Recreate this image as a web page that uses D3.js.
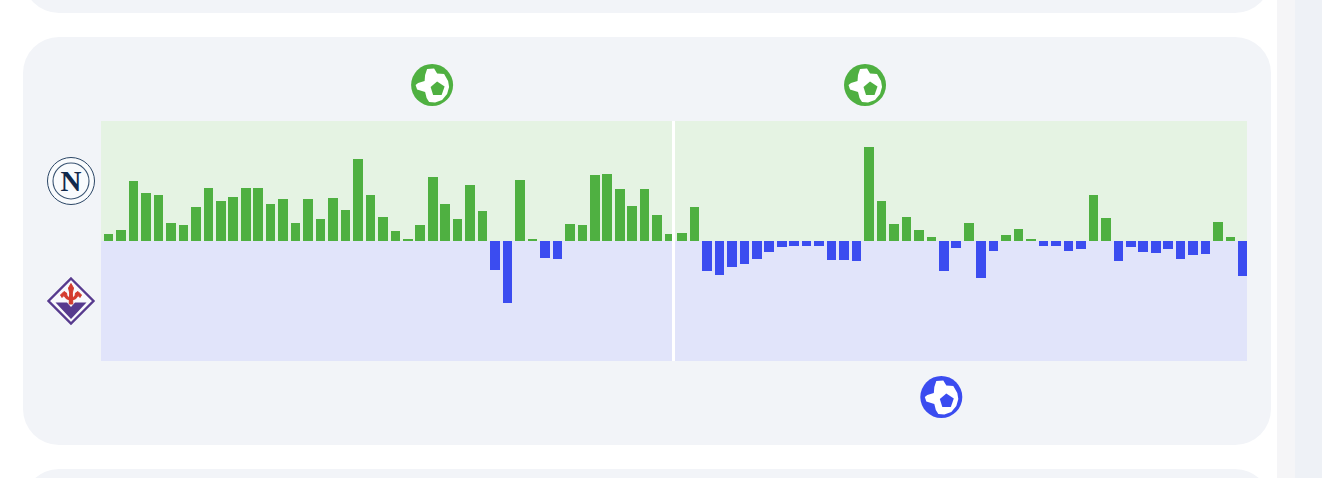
<!DOCTYPE html>
<html>
<head>
<meta charset="utf-8">
<script src="https://cdn.jsdelivr.net/npm/d3@7"></script>
<style>
    html, body { margin: 0; padding: 0; background: #fff; overflow: hidden; }
    svg { display: block; }
</style>
</head>
<body>
<svg id="chart" width="1322" height="478"></svg>
<script>
// momentum per minute, first half then second half. positive = home, negative = away
const firstHalf = [7, 11, 60, 48, 46, 18, 16, 34, 53, 40, 44, 53, 53, 37, 42, 18, 42, 22, 43, 31, 82, 46, 24, 10,
    2, 16, 64, 37, 22, 56, 30, -29, -62, 61, 2, -17, -18, 17, 16, 66, 67, 52, 35, 52, 26, 7];
const secondHalf = [8, 34, -30, -34, -26, -23, -18, -11, -6, -5, -5, -5, -19, -19, -20, 94, 40, 17, 24, 11, 4, -30, -7, 18,
    -37, -10, 6, 12, 2, -5, -5, -10, -8, 46, 23, -20, -6, -11, -12, -8, -18, -14, -13, 19, 4, -35];
const momentum = firstHalf.concat(secondHalf);
const homeGoals = [25.95, 60.68];
const awayGoals = [66.8];

const GREEN = "#4fb041";
const BLUE = "#3b4cf0";

const svg = d3.select("#chart");

// page background pieces
svg.append("rect").attr("x", 1277).attr("y", 0).attr("width", 18).attr("height", 478).attr("fill", "#f5f5f7");
svg.append("rect").attr("x", 1295).attr("y", 0).attr("width", 27).attr("height", 478).attr("fill", "#eef1f6");
svg.append("rect").attr("x", 23).attr("y", -100).attr("width", 1248).attr("height", 113).attr("rx", 36).attr("fill", "#f2f4f8");
svg.append("rect").attr("x", 23).attr("y", 37).attr("width", 1248).attr("height", 408).attr("rx", 36).attr("fill", "#f2f4f8");
svg.append("rect").attr("x", 23).attr("y", 469).attr("width", 1248).attr("height", 113).attr("rx", 36).attr("fill", "#f2f4f8");

const x = d3.scaleBand().domain(d3.range(momentum.length)).range([102.4, 1249.2]).paddingInner(0.23).paddingOuter(0.115);
const y = d3.scaleLinear().domain([-120, 120]).range([361, 121]);
const goalX = d3.scaleLinear().domain([0, momentum.length - 1]).range([x(0) + x.bandwidth() / 2, x(momentum.length - 1) + x.bandwidth() / 2]);

// background panels for each half and team
const halves = [[101, 672], [675, 1247]];
halves.forEach(h => {
    svg.append("rect").attr("x", h[0]).attr("y", y(120)).attr("width", h[1] - h[0]).attr("height", y(0) - y(120)).attr("fill", "#e5f3e3");
    svg.append("rect").attr("x", h[0]).attr("y", y(0)).attr("width", h[1] - h[0]).attr("height", y(-120) - y(0)).attr("fill", "#e1e4fa");
});

svg.append("clipPath").attr("id", "plot").append("rect").attr("x", 101).attr("y", 121).attr("width", 1146).attr("height", 240);

svg.append("g").attr("clip-path", "url(#plot)")
    .selectAll("rect")
    .data(momentum)
    .enter()
    .append("rect")
    .attr("x", (d, i) => Math.round(x(i)))
    .attr("width", (d, i) => Math.round(x(i) + x.bandwidth()) - Math.round(x(i)))
    .attr("y", d => y(Math.max(d, 0)))
    .attr("height", d => Math.abs(y(d) - y(0)))
    .attr("fill", d => d > 0 ? GREEN : BLUE);

// white line at half time goes over the bars
svg.append("rect").attr("x", 672).attr("y", 121).attr("width", 3).attr("height", 240).attr("fill", "#fff");

// football icon, drawn around 0,0
function drawBall(cx, cy, color) {
    const g = svg.append("g").attr("transform", `translate(${cx},${cy})`);
    g.append("circle").attr("r", 21).attr("fill", color);
    g.append("path").attr("fill", "#fff")
        .attr("d", "M-5,-16L2,-16.5L5,-11.5L12,-11L16,-4L17,2L15,9L10,15L3,17.5L-3,17L-5.5,13L-7,7L-15,4.5L-16.5,0L-14,-2L-7.5,-4L-7,-10Z");
    g.append("path").attr("fill", color).attr("d", "M5,-3.5L12.5,1.5L9.5,10L1,10L-1.5,2Z");
}
homeGoals.forEach(m => drawBall(goalX(m), 85, GREEN));
awayGoals.forEach(m => drawBall(goalX(m), 397, BLUE));

// home crest
const home = svg.append("g").attr("transform", "translate(71,181)");
home.append("circle").attr("r", 23.5).attr("fill", "#f9fbfd").attr("stroke", "#2b4666").attr("stroke-width", 1);
home.append("circle").attr("r", 18).attr("fill", "none").attr("stroke", "#3a5472").attr("stroke-width", 1.1);
home.append("text").attr("text-anchor", "middle").attr("y", 9.5).attr("font-family", "Liberation Serif").attr("font-weight", "bold").attr("font-size", 29).attr("fill", "#12294b").text("N");

// away crest
const away = svg.append("g").attr("transform", "translate(71,301)");
away.append("path").attr("d", "M0,-22.5L22.5,0L0,22.5L-22.5,0Z").attr("fill", "#f9f9fc").attr("stroke", "#573a8e").attr("stroke-width", 2.4);
away.append("path").attr("d", "M-15.5,1.5L-4,1.5L0,6L4,1.5L15.5,1.5L0,18Z").attr("fill", "#573a8e");
away.append("g").attr("fill", "#d43c2f").attr("stroke", "#d43c2f").attr("stroke-width", 1).attr("stroke-linejoin", "round")
    .selectAll("path")
    .data([
        "M0,-17.5L2.5,-13L1.3,-8L1.8,3L-1.8,3L-1.3,-8L-2.5,-13Z",
        "M1.5,-3L4,-5L4.5,-8L7,-9.5L10.5,-6L9,-3.5L7,-5.5L5,-2.5L1.5,-1Z",
        "M-1.5,-3L-4,-5L-4.5,-8L-7,-9.5L-10.5,-6L-9,-3.5L-7,-5.5L-5,-2.5L-1.5,-1Z"
    ])
    .enter()
    .append("path")
    .attr("d", d => d);
</script>
</body>
</html>
